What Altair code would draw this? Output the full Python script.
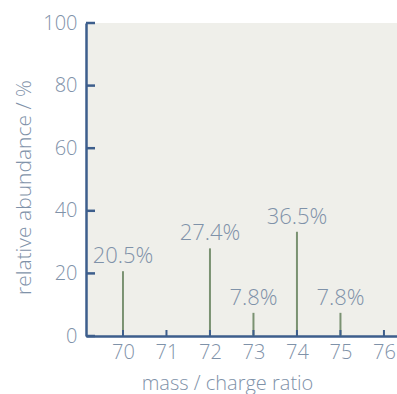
import altair as alt
import pandas as pd

mass = [70, 72, 73, 74, 75]
heights = [20.7, 28.0, 7.4, 33.3, 7.4]
labels = ["20.5%", "27.4%", "7.8%", "36.5%", "7.8%"]
x_ticks = [70, 71, 72, 73, 74, 75, 76]
y_ticks = [0, 20, 40, 60, 80, 100]

AXIS = "#3d5e8c"
TXT = "#7f92a9"
BAR = "#7a9272"
FONT = "Open Sans"
W, H = 311, 313

df = pd.DataFrame({"mass": mass, "h": heights, "label": labels})
xt = pd.DataFrame({"t": x_ticks})
yt = pd.DataFrame({"t": y_ticks})

xs = alt.Scale(domain=[69.15, 76.3], nice=False, zero=False)
ys = alt.Scale(domain=[0, 100], nice=False)

x_axis = alt.Axis(values=x_ticks, title="mass / charge ratio", format="d",
                  tickSize=0, labelPadding=6, domainColor=AXIS, domainWidth=2.5,
                  labelColor=TXT, labelFontSize=20, labelFont=FONT, labelFontWeight=300,
                  titleColor=TXT, titleFontSize=20, titleFont=FONT,
                  titleFontWeight=300, titlePadding=11, titleX=141, grid=False)
y_axis = alt.Axis(values=y_ticks, title="relative abundance / %",
                  tickSize=0, labelPadding=9, domainColor=AXIS, domainWidth=2.5,
                  labelColor=TXT, labelFontSize=20, labelFont=FONT, labelFontWeight=300,
                  titleColor=TXT, titleFontSize=21, titleFont=FONT,
                  titleFontWeight=300, titlePadding=8, titleY=164, grid=False)

bars = alt.Chart(df).mark_rule(color=BAR, strokeWidth=2).encode(
    x=alt.X("mass:Q", scale=xs, axis=x_axis),
    y=alt.Y("h:Q", scale=ys, axis=y_axis),
    y2=alt.datum(0),
)

text = alt.Chart(df).mark_text(baseline="bottom", dy=-3, color=TXT,
                               fontSize=22, font=FONT, fontWeight=300).encode(
    x=alt.X("mass:Q", scale=xs),
    y=alt.Y("h:Q", scale=ys),
    text="label:N",
)

xtick = alt.Chart(xt).mark_rule(color=AXIS, strokeWidth=2).encode(
    x=alt.X("t:Q", scale=xs),
    y=alt.value(H),
    y2=alt.value(H - 6),
)

ytick = alt.Chart(yt).mark_rule(color=AXIS, strokeWidth=2.5).encode(
    y=alt.Y("t:Q", scale=ys),
    x=alt.value(0),
    x2=alt.value(9),
)

chart = alt.layer(bars, xtick, ytick, text).properties(
    width=W, height=H,
    autosize=alt.AutoSizeParams(type="none"),
    padding={"left": 86, "top": 23, "right": 0, "bottom": 58},
    background="white",
).configure_view(fill="#efefea", stroke=None)

chart.save("out.html", embed_options={"renderer": "svg", "actions": False})
